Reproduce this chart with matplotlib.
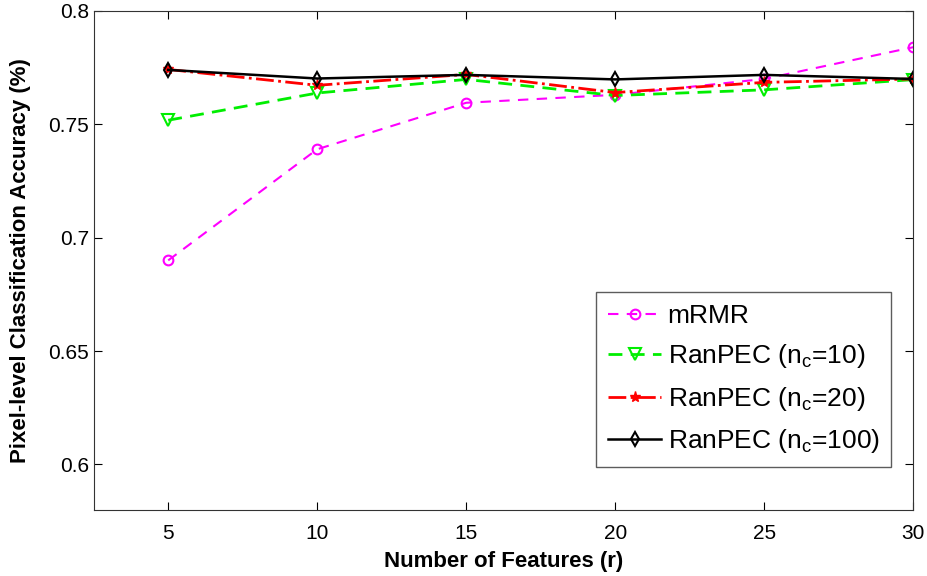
import matplotlib
matplotlib.use("Agg")
import matplotlib.pyplot as plt
import numpy as np

plt.rcParams["font.family"] = ["Liberation Sans", "DejaVu Sans"]
plt.rcParams["mathtext.fontset"] = "custom"
plt.rcParams["mathtext.rm"] = "Liberation Sans"
plt.rcParams["mathtext.it"] = "Liberation Sans"

features = [5, 10, 15, 20, 25, 30]
mrmr = [0.690, 0.739, 0.7595, 0.763, 0.770, 0.784]
ranpec_10 = [0.7518, 0.7638, 0.7698, 0.7627, 0.7652, 0.7697]
ranpec_20 = [0.7742, 0.7672, 0.7720, 0.7640, 0.7685, 0.7700]
ranpec_100 = [0.7740, 0.7702, 0.7718, 0.7698, 0.7718, 0.7700]

fig = plt.figure(figsize=(9.28, 5.76), dpi=100)
ax = fig.add_axes([0.101, 0.115, 0.883, 0.866])

ax.plot(features, mrmr, color="#ff00ff", linestyle="--", marker="o",
        markerfacecolor="none", markersize=7, markeredgewidth=1.5, linewidth=1.5,
        dashes=(5, 4), label="mRMR")
ax.plot(features, ranpec_10, color="#00ee00", linestyle="--", marker="v",
        markerfacecolor="none", markersize=9, markeredgewidth=1.5, linewidth=2,
        dashes=(5, 3), label="RanPEC ($n_c$=10)")
ax.plot(features, ranpec_20, color="#ff0000", linestyle="-.", marker="*",
        markersize=8, linewidth=2, label="RanPEC ($n_c$=20)")
ax.plot(features, ranpec_100, color="black", linestyle="-", marker="d",
        markerfacecolor="none", markersize=7, markeredgewidth=1.5, linewidth=1.8,
        label="RanPEC ($n_c$=100)")

ax.set_xlim(2.5, 30)
ax.set_ylim(0.58, 0.8)
ax.set_xticks(features)
ax.set_yticks([0.6, 0.65, 0.7, 0.75, 0.8])
ax.set_yticklabels(["0.6", "0.65", "0.7", "0.75", "0.8"])
ax.tick_params(direction="in", top=True, right=True, labelsize=15, length=6)
ax.tick_params(axis="x", pad=10)
for s in ax.spines.values():
    s.set_color("#333333")

ax.set_xlabel("Number of Features (r)", fontsize=16, fontweight="bold", labelpad=6)
ax.set_ylabel("Pixel-level Classification Accuracy (%)", fontsize=16, fontweight="bold", labelpad=12)

leg = ax.legend(loc="lower right", bbox_to_anchor=(0.9735, 0.085), fontsize=19,
                frameon=True, fancybox=False, handlelength=2.0, handletextpad=0.25,
                borderpad=0.45, labelspacing=0.55, borderaxespad=0)
leg.get_frame().set_edgecolor("#333333")
leg.get_frame().set_linewidth(1.0)

fig.savefig("out.png", dpi=100)
